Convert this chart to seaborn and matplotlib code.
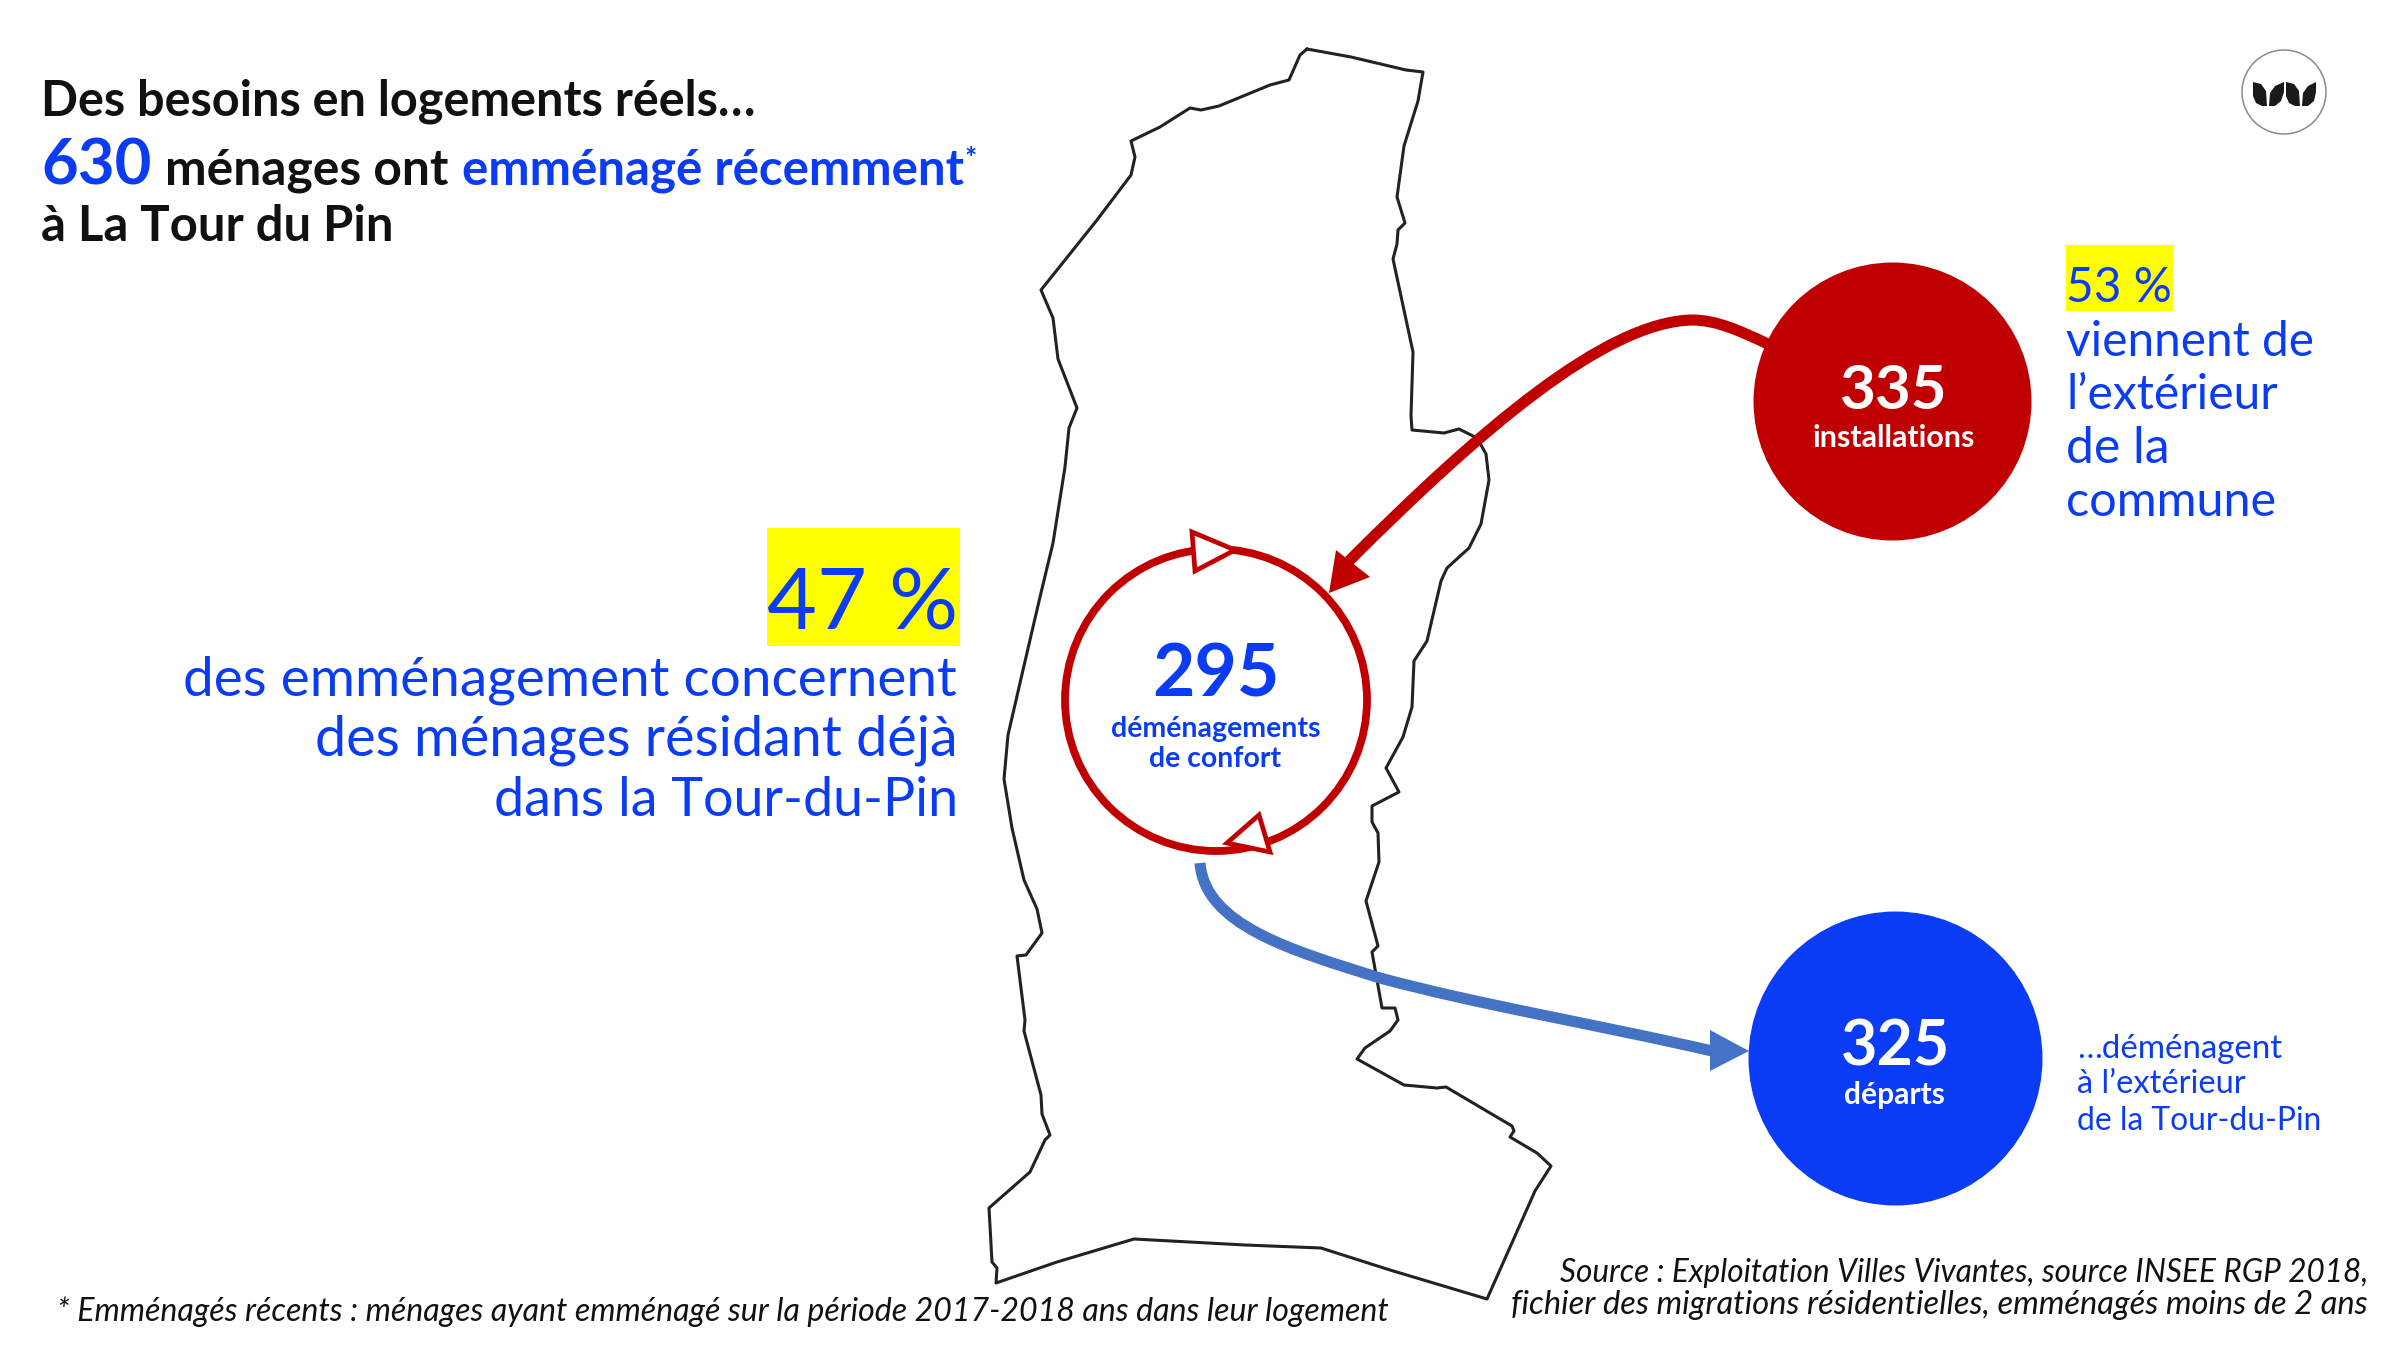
import numpy as np
import pandas as pd
import matplotlib
matplotlib.use("Agg")
import matplotlib.pyplot as plt
from matplotlib.patches import Circle, Polygon, Rectangle, PathPatch
from matplotlib.path import Path
import seaborn as sns

BLUE = "#0A3CF5"
RED = "#C00000"
ARROW_BLUE = "#4472C4"
FONT = "Lato"
S = 2400 / 1568  # reference display units -> pixels
DY = 1.3

commune_x = [1307,1351,1406,1423,1418,1404,1397,1405,1398,1397,1393,1413,1411,1412,1444,1459,1477,1486,1489,1481,1469,1447,1441,1427,1414,1412,1403,1386,1399,1372,1372,1378,1379,1366,1378,1372,1382,1395,1398,1390,1365,1357,1404,1437,1446,1512,1514,1510,1537,1551,1535,1487,1390,1321,1245,1134,1057,996,997,992,989,1030,1045,1050,1042,1041,1024,1025,1017,1026,1042,1037,1024,1012,1004,1008,1023,1040,1053,1065,1069,1077,1058,1053,1041,1097,1131,1135,1131,1160,1190,1201,1219,1270,1289,1300,1307]
commune_y = [49,57,70,72,101,146,197,223,230,244,259,352,416,430,433,429,438,454,480,524,548,568,581,641,661,707,737,768,792,806,822,833,862,901,946,952,1008,1008,1020,1031,1048,1059,1085,1088,1087,1126,1131,1137,1153,1166,1191,1299,1270,1248,1245,1239,1262,1283,1268,1262,1208,1172,1140,1135,1114,1095,1031,1020,956,955,933,909,880,828,779,735,670,597,543,467,428,408,359,318,290,220,175,157,141,127,108,110,106,85,80,55,49]

node_x = [1892, 1895]
node_y = [401, 1058]
node_r = [139, 147]
node_color = [RED, BLUE]

ring_center = (1216, 700)
ring_radius = 151
ring_heads = [[(1192,532),(1195,571),(1235,550)], [(1259,815),(1270,852),(1227,843)]]

red_curve = [(1768,344),(1738,330),(1716,320),(1692,320),(1605,322),(1480,430),(1349,561)]
red_head = [(1329,593),(1336,550),(1370,577)]
blue_curve = [(1200,863),(1205,925),(1290,950),(1380,978),(1480,1005),(1600,1025),(1712,1051)]
blue_head = [(1749,1051),(1710,1030),(1710,1071)]

yellow_boxes = [(501,345,627,422),(1350,160,1420,203)]

values = {"installations": 335, "confort": 295, "departs": 325, "total": 630}

# (text, x0, x1, baseline, colour, weight, style)
labels = [
    ("Des besoins en logements réels…", 27, 495, 74, "#111111", "bold", "normal"),
    (str(values["total"]), 27, 99, 119, BLUE, "bold", "normal"),
    ("ménages ont", 108, 293, 119, "#111111", "bold", "normal"),
    ("emménagé récemment", 302, 629, 119, BLUE, "bold", "normal"),
    ("*", 630, 638, 108, BLUE, "bold", "normal"),
    ("à La Tour du Pin", 27, 257, 156, "#111111", "bold", "normal"),
    ("47 %", 501, 626, 410, BLUE, "normal", "normal"),
    ("des emménagement concernent", 119.5, 627, 453, BLUE, "normal", "normal"),
    ("des ménages résidant déjà", 205.5, 627.5, 492, BLUE, "normal", "normal"),
    ("dans la Tour-du-Pin", 322.5, 627.5, 532, BLUE, "normal", "normal"),
    (str(values["confort"]), 753, 836, 454, BLUE, "bold", "normal"),
    ("déménagements", 726, 863, 480, BLUE, "bold", "normal"),
    ("de confort", 751, 837, 500, BLUE, "bold", "normal"),
    (str(values["installations"]), 1202, 1272, 266, "white", "bold", "normal"),
    ("installations", 1184, 1290, 291, "white", "bold", "normal"),
    (str(values["departs"]), 1203, 1274, 695, "white", "bold", "normal"),
    ("départs", 1205, 1271, 720, "white", "bold", "normal"),
    ("53 %", 1350, 1419, 196, BLUE, "normal", "normal"),
    ("viennent de", 1350, 1513, 231, BLUE, "normal", "normal"),
    ("l’extérieur", 1350, 1489, 266, BLUE, "normal", "normal"),
    ("de la", 1350, 1418, 301, BLUE, "normal", "normal"),
    ("commune", 1350, 1488, 336, BLUE, "normal", "normal"),
    ("…déménagent", 1357, 1491, 690, BLUE, "normal", "normal"),
    ("à l’extérieur", 1357, 1468, 713, BLUE, "normal", "normal"),
    ("de la Tour-du-Pin", 1357, 1517, 737, BLUE, "normal", "normal"),
    ("* Emménagés récents : ménages ayant emménagé sur la période 2017-2018 ans dans leur logement", 37, 907, 862, "#111111", "normal", "italic"),
    ("Source : Exploitation Villes Vivantes, source INSEE RGP 2018,", 1019, 1547, 836, "#111111", "normal", "italic"),
    ("fichier des migrations résidentielles, emménagés moins de 2 ans", 987, 1547, 857, "#111111", "normal", "italic"),
]

logo_center = (2284, 92)
logo_radius = 42
logo_leaves = [
    [(2253,82),(2261,84),(2266,91),(2267,106),(2262,106),(2256,103),(2253,96)],
    [(2269,106),(2270,93),(2275,86),(2284,82),(2284,92),(2281,101),(2275,106)],
    [(2286,82),(2294,84),(2299,91),(2300,106),(2295,106),(2289,103),(2286,96)],
    [(2302,106),(2303,93),(2308,86),(2316,82),(2316,92),(2314,101),(2308,106)],
]

sns.set_theme(style="white")
plt.rcParams["font.family"] = [FONT, "DejaVu Sans"]

fig = plt.figure(figsize=(24, 13.5), dpi=100, facecolor="white")
ax = fig.add_axes([0, 0, 1, 1])

outline = pd.DataFrame({"x": commune_x, "y": commune_y})
sns.lineplot(data=outline, x="x", y="y", sort=False, estimator=None, color="#222222",
             linewidth=2.2, ax=ax, zorder=1, legend=False)

for x0, y0, x1, y1 in yellow_boxes:
    ax.add_patch(Rectangle((x0*S, y0*S), (x1-x0)*S, (y1-y0)*S, color="#FFFF00", lw=0, zorder=1))

# diameter in points: 2 r px * 72/100
nodes = pd.DataFrame({"x": node_x, "y": node_y, "s": [(2*r*0.72)**2 for r in node_r], "c": node_color})
for _, n in nodes.iterrows():
    sns.scatterplot(x=[n.x], y=[n.y], s=n.s, color=n.c, linewidth=0, ax=ax, zorder=3, legend=False)
ax.set_xlim(0, 2400)
ax.set_ylim(1350, 0)
ax.axis("off")

ax.add_patch(Circle(ring_center, ring_radius, fill=False, ec=RED, lw=5.6, zorder=3))
for h in ring_heads:
    ax.add_patch(Polygon(h, closed=True, fc="white", ec=RED, lw=3.4, joinstyle="miter", zorder=4))

codes = [Path.MOVETO] + [Path.CURVE4] * 6
ax.add_patch(PathPatch(Path(red_curve, codes), fill=False, ec=RED, lw=8, capstyle="butt", zorder=3))
ax.add_patch(Polygon(red_head, closed=True, fc=RED, ec="none", zorder=4))
ax.add_patch(PathPatch(Path(blue_curve, codes), fill=False, ec=ARROW_BLUE, lw=8, capstyle="butt", zorder=3))
ax.add_patch(Polygon(blue_head, closed=True, fc=ARROW_BLUE, ec="none", zorder=4))

ax.add_patch(Circle(logo_center, logo_radius, fill=False, ec="#8a8a8a", lw=1.1, zorder=3))
for leaf in logo_leaves:
    ax.add_patch(Polygon(leaf, closed=True, fc="#1a1a1a", ec="none", zorder=4))

fig.canvas.draw()
renderer = fig.canvas.get_renderer()
for s, x0, x1, base, col, weight, style in labels:
    t = ax.text(x0*S, (base+DY)*S, s, color=col, fontweight=weight, fontstyle=style,
                fontsize=20, ha="left", va="baseline", zorder=6)
    w = t.get_window_extent(renderer).width
    t.set_fontsize(20 * (x1-x0)*S / w)

fig.savefig("out.png", dpi=100, facecolor="white")
